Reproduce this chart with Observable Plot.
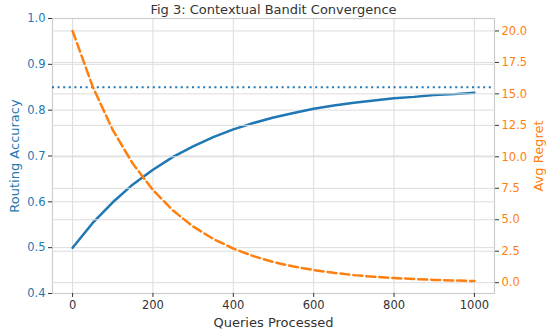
<!DOCTYPE html>
<html>
<head>
<meta charset="utf-8">
<script src="https://cdn.jsdelivr.net/npm/d3@7"></script>
<script src="https://cdn.jsdelivr.net/npm/@observablehq/plot@0.6"></script>
<style>
  html, body { margin: 0; padding: 0; background: white; }
  #wrap { position: relative; width: 546px; height: 334px; font-family: "DejaVu Sans", sans-serif; }
  #wrap svg { position: absolute; left: 0; top: 0; }
</style>
</head>
<body>
<div id="wrap"></div>
<script>
const chartTitle = "Fig 3: Contextual Bandit Convergence";
const queries = [0, 50, 100, 150, 200, 250, 300, 350, 400, 450, 500, 550, 600, 650, 700, 750, 800, 850, 900, 950, 1000];
const accuracy = [0.500, 0.554, 0.599, 0.638, 0.670, 0.698, 0.721, 0.741, 0.758, 0.772, 0.784, 0.794, 0.803, 0.810, 0.816, 0.821, 0.826, 0.829, 0.833, 0.835, 0.838];
const regret = [20.0, 15.58, 12.13, 9.45, 7.36, 5.73, 4.46, 3.48, 2.71, 2.11, 1.64, 1.28, 1.00, 0.78, 0.60, 0.47, 0.37, 0.29, 0.22, 0.17, 0.13];
const targetAccuracy = 0.85;
const accTicks = [0.4, 0.5, 0.6, 0.7, 0.8, 0.9, 1.0];
const regretTicks = [0, 2.5, 5, 7.5, 10, 12.5, 15, 17.5, 20];
const queryTicks = [0, 200, 400, 600, 800, 1000];

const blue = "#1f77b4", orange = "#ff7f0e", grid = "#dcdcdc", ink = "#333333";
const accData = queries.map((q, i) => ({q, v: accuracy[i]}));
const regData = queries.map((q, i) => ({q, v: regret[i]}));

const common = {
  width: 546, height: 334,
  marginLeft: 52, marginRight: 52, marginTop: 18, marginBottom: 41,
  style: {fontFamily: "DejaVu Sans, sans-serif", fontSize: "11px", background: "transparent", overflow: "visible"},
  x: {domain: [-50, 1050], axis: null}
};

const p1 = Plot.plot({
  ...common,
  y: {domain: [0.4, 1.0], axis: null},
  marks: [
    Plot.gridX(queryTicks, {stroke: grid, strokeOpacity: 1, strokeWidth: 1}),
    Plot.gridY(accTicks, {stroke: grid, strokeOpacity: 1, strokeWidth: 1}),
    Plot.frame({stroke: "#cccccc", strokeWidth: 1.2}),
    Plot.ruleY([targetAccuracy], {stroke: blue, strokeWidth: 2, strokeDasharray: "2,3.6"}),
    Plot.line(accData, {x: "q", y: "v", stroke: blue, strokeWidth: 2.5}),
    Plot.axisX(queryTicks, {tickSize: 4, tickPadding: 3, tickFormat: d3.format("d"), stroke: ink, color: ink, fontSize: 11.5, label: null}),
    Plot.axisX({ticks: [], label: "Queries Processed", labelAnchor: "center", labelArrow: "none", labelOffset: 33, fontSize: 13, color: ink}),
    Plot.axisY(accTicks, {anchor: "left", tickSize: 4, tickPadding: 3, tickFormat: d3.format(".1f"),
      stroke: ink, color: blue, fontSize: 11.5, label: null}),
    Plot.axisY({anchor: "left", ticks: [], label: "Routing Accuracy", labelAnchor: "center", labelArrow: "none", labelOffset: 43, fontSize: 13, color: blue}),
    Plot.text([chartTitle], {frameAnchor: "top", dy: -14, text: d => d, fontSize: 13, fill: ink})
  ]
});

const p2 = Plot.plot({
  ...common,
  y: {domain: [-0.86, 20.99], axis: null},
  marks: [
    Plot.gridY(regretTicks, {stroke: grid, strokeOpacity: 1, strokeWidth: 1}),
    Plot.line(regData, {x: "q", y: "v", stroke: orange, strokeWidth: 2.5, strokeDasharray: "9,4"}),
    Plot.axisY(regretTicks, {anchor: "right", tickSize: 4, tickPadding: 3, tickFormat: d3.format(".1f"),
      stroke: ink, color: orange, fontSize: 11.5, label: null}),
    Plot.axisY({anchor: "right", ticks: [], label: "Avg Regret", labelAnchor: "center", labelArrow: "none", labelOffset: 48, fontSize: 13, color: orange})
  ]
});

const wrap = document.getElementById("wrap");
wrap.appendChild(p1);
wrap.appendChild(p2);
</script>
</body>
</html>
